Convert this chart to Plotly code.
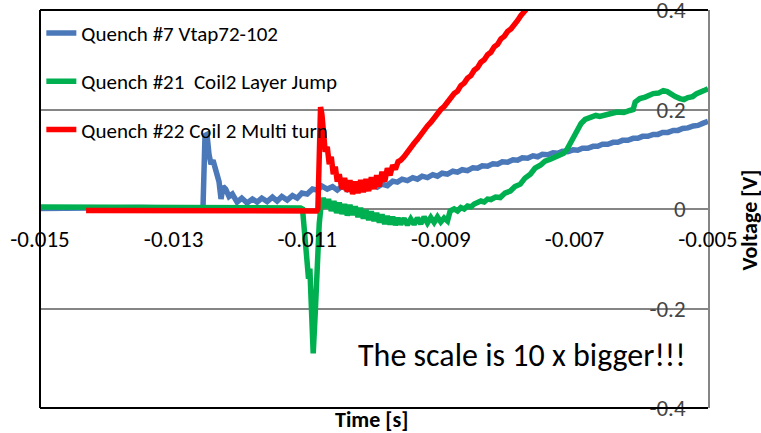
import plotly.graph_objects as go

# ---- Quench #7, voltage tap 72-102 ----
t_q7 = [-0.01500, -0.01450, -0.01400, -0.01350, -0.01300, -0.01270, -0.01256,
        -0.01253, -0.01250, -0.01247, -0.01244, -0.01241, -0.01238, -0.01235,
        -0.01232, -0.01229, -0.01226, -0.01222, -0.01217, -0.01212, -0.01205,
        -0.01198, -0.01190, -0.01182, -0.01175, -0.01168, -0.01160, -0.01152,
        -0.01145, -0.01138, -0.01130, -0.01122, -0.01115, -0.01108, -0.01100,
        -0.01092, -0.01085, -0.01078, -0.01070, -0.01062, -0.01055, -0.01048,
        -0.01040, -0.01032, -0.01025, -0.01018, -0.01010, -0.01002, -0.00995,
        -0.00988, -0.00980, -0.00972, -0.00965, -0.00958, -0.00950, -0.00942,
        -0.00935, -0.00928, -0.00920, -0.00912, -0.00905, -0.00898, -0.00890,
        -0.00882, -0.00875, -0.00868, -0.00860, -0.00852, -0.00845, -0.00838,
        -0.00830, -0.00822, -0.00815, -0.00808, -0.00800, -0.00792, -0.00785,
        -0.00778, -0.00770, -0.00762, -0.00755, -0.00748, -0.00740, -0.00732,
        -0.00725, -0.00718, -0.00710, -0.00702, -0.00695, -0.00688, -0.00680,
        -0.00672, -0.00665, -0.00658, -0.00650, -0.00642, -0.00635, -0.00628,
        -0.00620, -0.00612, -0.00605, -0.00598, -0.00590, -0.00582, -0.00575,
        -0.00568, -0.00560, -0.00552, -0.00545, -0.00538, -0.00530, -0.00522,
        -0.00515, -0.00508, -0.00500]
v_q7 = [0.001, 0.002, 0.001, 0.003, 0.002, 0.003, 0.002,
        0.148, 0.150, 0.110, 0.090, 0.098, 0.085, 0.065,
        0.055, 0.020, 0.045, 0.040, 0.025, 0.030, 0.014,
        0.022, 0.012, 0.020, 0.014, 0.022, 0.015, 0.024,
        0.016, 0.025, 0.018, 0.027, 0.022, 0.032, 0.030,
        0.040, 0.038, 0.046, 0.040, 0.045, 0.038, 0.046,
        0.039, 0.047, 0.040, 0.048, 0.042, 0.049, 0.044,
        0.050, 0.047, 0.056, 0.054, 0.060, 0.057, 0.063,
        0.060, 0.066, 0.063, 0.069, 0.066, 0.072, 0.070,
        0.076, 0.074, 0.079, 0.077, 0.083, 0.082, 0.087,
        0.086, 0.091, 0.090, 0.095, 0.094, 0.099, 0.098,
        0.103, 0.102, 0.107, 0.105, 0.110, 0.109, 0.113,
        0.112, 0.116, 0.115, 0.119, 0.118, 0.122, 0.122,
        0.126, 0.126, 0.130, 0.130, 0.134, 0.134, 0.138,
        0.138, 0.142, 0.142, 0.146, 0.146, 0.150, 0.150,
        0.154, 0.154, 0.158, 0.158, 0.162, 0.163, 0.167,
        0.168, 0.172, 0.176]

# ---- Quench #21, coil 2 layer jump ----
t_q21 = [-0.01500, -0.01450, -0.01400, -0.01350, -0.01300, -0.01250, -0.01200,
         -0.01150, -0.01110, -0.01107, -0.01104, -0.01101, -0.01098, -0.01096,
         -0.01094, -0.01091, -0.01088, -0.01085, -0.01082, -0.01079, -0.01076,
         -0.01072, -0.01068, -0.01064, -0.01060, -0.01056, -0.01052, -0.01048,
         -0.01044, -0.01040, -0.01036, -0.01032, -0.01028, -0.01024, -0.01020,
         -0.01016, -0.01012, -0.01008, -0.01004, -0.01000, -0.00996, -0.00992,
         -0.00988, -0.00984, -0.00980, -0.00976, -0.00972, -0.00968, -0.00964,
         -0.00960, -0.00955, -0.00950, -0.00945, -0.00940, -0.00935, -0.00930,
         -0.00925, -0.00920, -0.00915, -0.00910, -0.00905, -0.00900, -0.00895,
         -0.00890, -0.00886, -0.00880, -0.00875, -0.00870, -0.00865, -0.00860,
         -0.00855, -0.00850, -0.00845, -0.00840, -0.00835, -0.00830, -0.00825,
         -0.00818, -0.00811, -0.00804, -0.00796, -0.00789, -0.00781, -0.00774,
         -0.00766, -0.00759, -0.00751, -0.00744, -0.00736, -0.00729, -0.00722,
         -0.00716, -0.00711, -0.00704, -0.00696, -0.00690, -0.00684, -0.00676,
         -0.00668, -0.00662, -0.00654, -0.00645, -0.00636, -0.00626, -0.00617,
         -0.00612, -0.00609, -0.00602, -0.00594, -0.00588, -0.00582, -0.00574,
         -0.00567, -0.00561, -0.00555, -0.00549, -0.00542, -0.00536, -0.00530,
         -0.00523, -0.00517, -0.00512, -0.00506, -0.00500]
v_q21 = [0.004, 0.004, 0.003, 0.004, 0.003, 0.003, 0.003,
         0.002, 0.002, 0.000, -0.050, -0.100, -0.140, -0.120,
         -0.170, -0.290, -0.210, -0.110, -0.030, 0.010, 0.022,
         0.002, 0.020, -0.004, 0.016, -0.008, 0.013, -0.010,
         0.010, -0.013, 0.008, -0.012, 0.005, -0.016, 0.002,
         -0.019, -0.002, -0.022, -0.005, -0.024, -0.008, -0.027,
         -0.011, -0.030, -0.014, -0.031, -0.016, -0.032, -0.018,
         -0.031, -0.019, -0.032, -0.020, -0.031, -0.018, -0.030,
         -0.016, -0.028, -0.017, -0.027, -0.016, -0.026, -0.018,
         -0.024, -0.004, 0.000, -0.004, 0.003, 0.000, 0.006,
         0.004, 0.010, 0.012, 0.016, 0.014, 0.020, 0.019,
         0.024, 0.023, 0.032, 0.036, 0.045, 0.050, 0.062,
         0.070, 0.082, 0.088, 0.096, 0.100, 0.104, 0.110,
         0.112, 0.120, 0.138, 0.160, 0.172, 0.180, 0.183,
         0.188, 0.186, 0.190, 0.192, 0.195, 0.194, 0.198,
         0.200, 0.215, 0.222, 0.225, 0.228, 0.232, 0.233,
         0.238, 0.236, 0.230, 0.226, 0.222, 0.220, 0.224,
         0.226, 0.232, 0.234, 0.238, 0.242]

# ---- Quench #22, coil 2 multi turn ----
t_q22 = [-0.01431, -0.01400, -0.01350, -0.01300, -0.01250, -0.01200, -0.01150,
         -0.01100, -0.01086, -0.01084, -0.01082, -0.01080, -0.01078, -0.01076,
         -0.01073, -0.01070, -0.01067, -0.01064, -0.01061, -0.01058, -0.01055,
         -0.01052, -0.01048, -0.01044, -0.01040, -0.01036, -0.01032, -0.01028,
         -0.01024, -0.01020, -0.01016, -0.01012, -0.01008, -0.01004, -0.01000,
         -0.00996, -0.00992, -0.00988, -0.00984, -0.00980, -0.00976, -0.00972,
         -0.00968, -0.00964, -0.00960, -0.00955, -0.00950, -0.00945, -0.00940,
         -0.00935, -0.00930, -0.00925, -0.00920, -0.00915, -0.00910, -0.00905,
         -0.00900, -0.00895, -0.00890, -0.00885, -0.00880, -0.00875, -0.00870,
         -0.00865, -0.00860, -0.00855, -0.00850, -0.00845, -0.00840, -0.00835,
         -0.00830, -0.00825, -0.00820, -0.00815, -0.00810, -0.00805, -0.00800,
         -0.00795, -0.00790, -0.00785, -0.00780, -0.00775, -0.00770, -0.00765,
         -0.00760]
v_q22 = [-0.003, -0.003, -0.002, -0.003, -0.003, -0.004, -0.003,
         -0.004, -0.004, 0.000, 0.120, 0.205, 0.190, 0.140,
         0.115, 0.125, 0.090, 0.105, 0.070, 0.085, 0.055,
         0.070, 0.040, 0.062, 0.035, 0.058, 0.030, 0.055,
         0.032, 0.058, 0.034, 0.060, 0.036, 0.064, 0.040,
         0.068, 0.045, 0.075, 0.055, 0.082, 0.068, 0.088,
         0.080, 0.095, 0.098, 0.105, 0.115, 0.122, 0.132,
         0.140, 0.150, 0.157, 0.167, 0.174, 0.184, 0.190,
         0.200, 0.206, 0.216, 0.222, 0.232, 0.237, 0.248,
         0.253, 0.263, 0.268, 0.279, 0.284, 0.295, 0.300,
         0.310, 0.315, 0.326, 0.331, 0.342, 0.347, 0.357,
         0.362, 0.373, 0.379, 0.389, 0.396, 0.406, 0.413,
         0.420]

series_names = ["Quench #7 Vtap72-102",
                "Quench #21  Coil2 Layer Jump",
                "Quench #22 Coil 2 Multi turn"]
series_colors = ["#4a78b8", "#00b050", "#ff0000"]

x_tick_vals = [-0.015, -0.013, -0.011, -0.009, -0.007, -0.005]
x_tick_text = ["-0.015", "-0.013", "-0.011", "-0.009", "-0.007", "-0.005"]
y_tick_vals = [-0.4, -0.2, 0.0, 0.2, 0.4]
y_tick_text = ["-0.4", "-0.2", "0", "0.2", "0.4"]

FONT = "Carlito, Calibri, Liberation Sans, Arial, sans-serif"

fig = go.Figure()
for i, (t, v) in enumerate([(t_q7, v_q7), (t_q21, v_q21), (t_q22, v_q22)]):
    fig.add_trace(go.Scatter(
        x=t, y=v, mode="lines", name=series_names[i], legendgroup=f"g{i}",
        line=dict(color=series_colors[i], width=5.5),
    ))

fig.update_layout(
    width=761, height=433,
    margin=dict(l=40, r=53, t=10, b=25, autoexpand=False),
    paper_bgcolor="white", plot_bgcolor="white",
    font=dict(family=FONT, color="#000000", size=21),
    showlegend=True,
    legend=dict(x=0.002, y=0.993, xanchor="left", yanchor="top",
                bgcolor="rgba(0,0,0,0)", font=dict(size=21),
                tracegroupgap=18, itemwidth=30),
    xaxis=dict(range=[-0.015, -0.005], anchor="free", position=0.5,
               tickvals=x_tick_vals, ticktext=x_tick_text,
               showgrid=False, zeroline=False, showline=False, ticks="",
               tickfont=dict(size=23), ticklabelstandoff=14,
               ticklabeloverflow="allow", automargin=False),
    yaxis=dict(range=[-0.4, 0.4], side="right",
               tickvals=y_tick_vals, ticktext=y_tick_text,
               showgrid=True, gridcolor="#858585", gridwidth=1.5,
               zeroline=False, showline=True, linecolor="#858585", linewidth=2,
               ticks="", ticklabelposition="inside", ticklabelstandoff=24,
               tickfont=dict(size=23), ticklabeloverflow="allow",
               automargin=False),
    shapes=[
        dict(type="line", xref="paper", yref="paper", x0=0, x1=1, y0=1, y1=1,
             line=dict(color="#000000", width=2), layer="above"),
        dict(type="line", xref="paper", yref="paper", x0=0, x1=1, y0=0, y1=0,
             line=dict(color="#000000", width=2), layer="above"),
        dict(type="line", xref="paper", yref="paper", x0=0, x1=0, y0=0, y1=1,
             line=dict(color="#000000", width=2), layer="above"),
    ],
    annotations=[
        dict(text="The scale is 10 x bigger!!!", xref="paper", yref="paper",
             x=0.7216, y=0.133, xanchor="center", yanchor="middle",
             showarrow=False, font=dict(size=32)),
        dict(text="<b>Time [s]</b>", xref="paper", yref="paper",
             x=0.497, y=-0.03, xanchor="center", yanchor="middle",
             showarrow=False, font=dict(size=22)),
        dict(text="<b>Voltage [V]</b>", xref="paper", yref="paper",
             x=1.062, y=0.472, xanchor="center", yanchor="middle",
             textangle=-90, showarrow=False, font=dict(size=22)),
    ],
)

fig.write_html("out.html")
